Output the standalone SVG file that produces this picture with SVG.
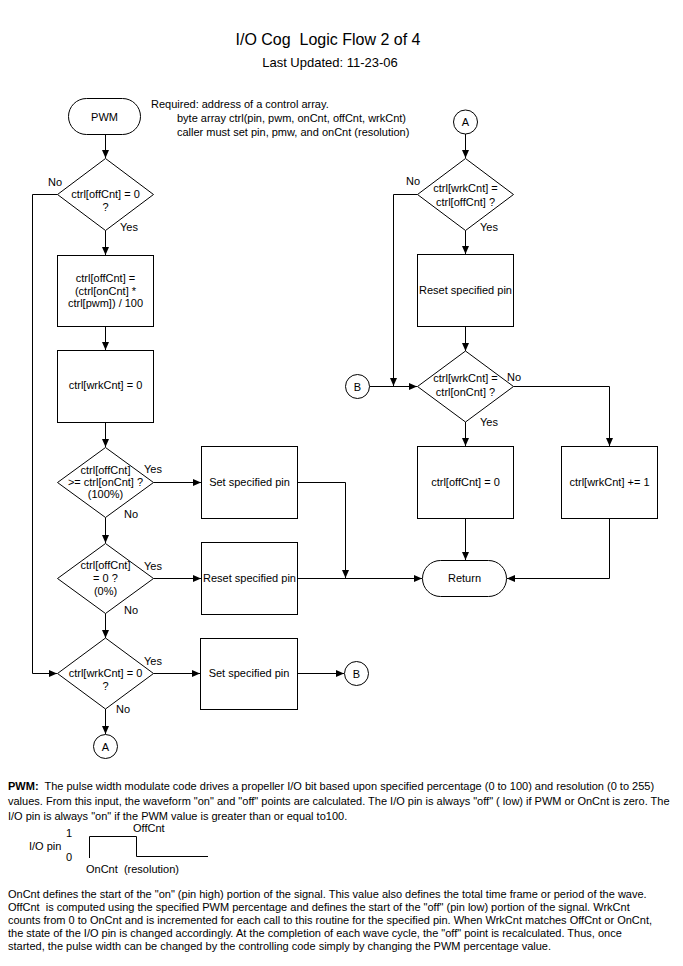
<svg xmlns="http://www.w3.org/2000/svg" width="683" height="966" viewBox="0 0 683 966">
<style>
.n{fill:#fff;stroke:#000;stroke-width:1}
.t{font-family:"Liberation Sans",Arial,sans-serif;font-size:11px;fill:#000}
.c{text-anchor:middle}
.e{fill:none;stroke:#000;stroke-width:1}
.a{marker-end:url(#ah)}
</style>
<defs>
<marker id="ah" markerUnits="userSpaceOnUse" markerWidth="8" markerHeight="8" viewBox="0 0 8 8" refX="8" refY="4" orient="auto"><path d="M0,0.5 L8,4 L0,7.5 Z" fill="#000"/></marker>
</defs>
<rect width="683" height="966" fill="#fff"/>
<text class="t c" x="328" y="45" style="font-size:16px">I/O Cog&#160; Logic Flow 2 of 4</text>
<text class="t c" x="330" y="67" style="font-size:13px">Last Updated: 11-23-06</text>
<text class="t" x="151" y="108">Required: address of a control array.</text>
<text class="t" x="177" y="122">byte array ctrl(pin, pwm, onCnt, offCnt, wrkCnt)</text>
<text class="t" x="177" y="136">caller must set pin, pmw, and onCnt (resolution)</text>
<g id="connectors">
<path class="e a" d="M105.5,134.5 V158"/>
<path class="e a" d="M57.5,194.5 H32.5 V673.5 H57"/>
<path class="e a" d="M105.5,230.5 V255"/>
<path class="e a" d="M105.5,326.5 V350"/>
<path class="e a" d="M105.5,422.5 V447"/>
<path class="e a" d="M153.5,482.5 H201"/>
<path class="e a" d="M297.5,482.5 H345.5 V578"/>
<path class="e a" d="M105.5,517.5 V543"/>
<path class="e a" d="M153.5,578.5 H201"/>
<path class="e a" d="M297.5,578.5 H422"/>
<path class="e a" d="M105.5,613.5 V638"/>
<path class="e a" d="M153.5,673.5 H200"/>
<path class="e a" d="M297.5,673.5 H344"/>
<path class="e a" d="M105.5,709 V734"/>
<path class="e a" d="M465.5,134 V158"/>
<path class="e a" d="M417.5,194.5 H393.5 V386"/>
<path class="e a" d="M465.5,230.5 V254"/>
<path class="e a" d="M465.5,326.5 V351"/>
<path class="e a" d="M369.5,386.5 H417"/>
<path class="e a" d="M513.5,386.5 H609.5 V446"/>
<path class="e a" d="M465.5,422 V446"/>
<path class="e a" d="M465.5,518.5 V560"/>
<path class="e a" d="M609.5,518.5 V578.5 H507"/>
</g>
<g id="pwm"><rect class="n" x="68.5" y="98.5" width="72" height="36" rx="18"/><text class="t c" x="104.5" y="121">PWM</text></g>
<g id="d1"><polygon class="n" points="105.5,158.5 153.5,194.5 105.5,230.5 57.5,194.5"/><text class="t c" x="105.5" y="198">ctrl[offCnt] = 0</text><text class="t c" x="105.5" y="211">?</text><text class="t" x="48" y="186">No</text><text class="t" x="120" y="231">Yes</text></g>
<g id="calc"><rect class="n" x="57.5" y="255.5" width="96" height="71"/><text class="t c" x="105.5" y="282">ctrl[offCnt] =</text><text class="t c" x="105.5" y="295">(ctrl[onCnt] *</text><text class="t c" x="105.5" y="307">ctrl[pwm]) / 100</text></g>
<g id="wrk0"><rect class="n" x="57.5" y="350.5" width="96" height="72"/><text class="t c" x="105.5" y="389">ctrl[wrkCnt] = 0</text></g>
<g id="d3"><polygon class="n" points="105.5,447.5 153.5,482.5 105.5,517.5 57.5,482.5"/><text class="t c" x="105.5" y="474">ctrl[offCnt]</text><text class="t c" x="105.5" y="486">&gt;= ctrl[onCnt] ?</text><text class="t c" x="105.5" y="498">(100%)</text><text class="t" x="144" y="473">Yes</text><text class="t" x="124" y="518">No</text></g>
<g id="set1"><rect class="n" x="201.5" y="446.5" width="96" height="72"/><text class="t c" x="249.5" y="486">Set specified pin</text></g>
<g id="d4"><polygon class="n" points="105.5,543.5 153.5,578.5 105.5,613.5 57.5,578.5"/><text class="t c" x="105.5" y="569">ctrl[offCnt]</text><text class="t c" x="105.5" y="582">= 0 ?</text><text class="t c" x="105.5" y="595">(0%)</text><text class="t" x="144" y="570">Yes</text><text class="t" x="124" y="614">No</text></g>
<g id="reset1"><rect class="n" x="201.5" y="542.5" width="96" height="72"/><text class="t c" x="249.5" y="582">Reset specified pin</text></g>
<g id="d5"><polygon class="n" points="105.5,638 153.5,673.5 105.5,709 57.5,673.5"/><text class="t c" x="105.5" y="677">ctrl[wrkCnt] = 0</text><text class="t c" x="105.5" y="690">?</text><text class="t" x="144" y="665">Yes</text><text class="t" x="116" y="713">No</text></g>
<g id="set2"><rect class="n" x="200.5" y="638.5" width="97" height="71"/><text class="t c" x="249" y="677">Set specified pin</text></g>
<g id="b1"><circle class="n" cx="356.5" cy="673.5" r="12"/><text class="t c" x="356.5" y="677.5">B</text></g>
<g id="a1"><circle class="n" cx="105.5" cy="746.5" r="12"/><text class="t c" x="105.5" y="750.5">A</text></g>
<g id="a2"><circle class="n" cx="465.5" cy="122" r="12"/><text class="t c" x="465.5" y="126">A</text></g>
<g id="dr1"><polygon class="n" points="465.5,158.5 513.5,194.5 465.5,230.5 417.5,194.5"/><text class="t c" x="465.5" y="192">ctrl[wrkCnt] =</text><text class="t c" x="465.5" y="206">ctrl[offCnt] ?</text><text class="t" x="406" y="185">No</text><text class="t" x="480" y="231">Yes</text></g>
<g id="resetR"><rect class="n" x="417.5" y="254.5" width="96" height="72"/><text class="t c" x="465.5" y="294">Reset specified pin</text></g>
<g id="dr2"><polygon class="n" points="465.5,351 513.5,386.5 465.5,422 417.5,386.5"/><text class="t c" x="465.5" y="382">ctrl[wrkCnt] =</text><text class="t c" x="465.5" y="396">ctrl[onCnt] ?</text><text class="t" x="507" y="381">No</text><text class="t" x="480" y="426">Yes</text></g>
<g id="b2"><circle class="n" cx="357.5" cy="386.5" r="12"/><text class="t c" x="357.5" y="390.5">B</text></g>
<g id="off0"><rect class="n" x="417.5" y="446.5" width="96" height="72"/><text class="t c" x="465.5" y="486">ctrl[offCnt] = 0</text></g>
<g id="inc"><rect class="n" x="561.5" y="446.5" width="96" height="72"/><text class="t c" x="609.5" y="486">ctrl[wrkCnt] += 1</text></g>
<g id="ret"><rect class="n" x="422.5" y="560.5" width="84" height="36" rx="18"/><text class="t c" x="464.5" y="582">Return</text></g>
<text class="t" x="8" y="790"><tspan font-weight="bold">PWM:</tspan>&#160; The pulse width modulate code drives a propeller I/O bit based upon specified percentage (0 to 100) and resolution (0 to 255)</text>
<text class="t" x="8" y="805">values. From this input, the waveform "on" and "off" points are calculated. The I/O pin is always "off" ( low) if PWM or OnCnt is zero. The</text>
<text class="t" x="8" y="820">I/O pin is always "on" if the PWM value is greater than or equal to100.</text>
<path class="e" d="M89.5,858 V836.5 H136.5 V856.5 H208"/>
<text class="t" x="133" y="832">OffCnt</text>
<text class="t" x="66" y="837">1</text>
<text class="t" x="29" y="850">I/O pin</text>
<text class="t" x="66" y="861">0</text>
<text class="t" x="86" y="873">OnCnt&#160; (resolution)</text>
<text class="t" x="8" y="898">OnCnt defines the start of the "on" (pin high) portion of the signal. This value also defines the total time frame or period of the wave.</text>
<text class="t" x="8" y="911">OffCnt&#160; is computed using the specified PWM percentage and defines the start of the "off" (pin low) portion of the signal. WrkCnt</text>
<text class="t" x="8" y="924">counts from 0 to OnCnt and is incremented for each call to this routine for the specified pin. When WrkCnt matches OffCnt or OnCnt,</text>
<text class="t" x="8" y="937">the state of the I/O pin is changed accordingly. At the completion of each wave cycle, the "off" point is recalculated. Thus, once</text>
<text class="t" x="8" y="950">started, the pulse width can be changed by the controlling code simply by changing the PWM percentage value.</text>
</svg>
